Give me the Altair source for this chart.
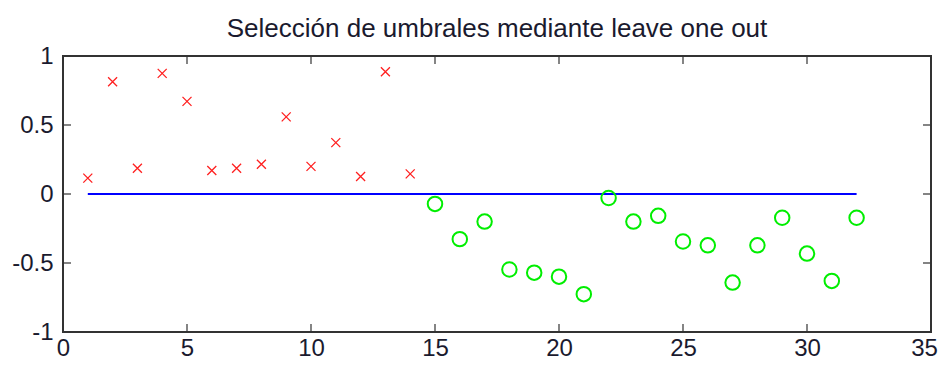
import altair as alt
import pandas as pd

# Data
red_x = list(range(1, 15))
red_y = [0.115, 0.814, 0.186, 0.874, 0.671, 0.17, 0.186, 0.215, 0.559, 0.2,
         0.372, 0.127, 0.886, 0.146]
green_x = list(range(15, 33))
green_y = [-0.072, -0.327, -0.2, -0.547, -0.57, -0.599, -0.726, -0.029, -0.2,
           -0.158, -0.344, -0.372, -0.642, -0.372, -0.172, -0.432, -0.63, -0.172]
line_x = [1, 32]
line_y = [0, 0]
x_ticks = [0, 5, 10, 15, 20, 25, 30, 35]
y_ticks = [-1, -0.5, 0, 0.5, 1]
title_text = "Selección de umbrales mediante leave one out"

W, H = 868, 276
TL = 8
FONT = "Liberation Sans"
TXT = "#1a1a2e"

df_red = pd.DataFrame({"x": red_x, "y": red_y})
df_green = pd.DataFrame({"x": green_x, "y": green_y})
df_line = pd.DataFrame({"x": line_x, "y": line_y})
df_xt = pd.DataFrame({"x": x_ticks})
df_yt = pd.DataFrame({"y": y_ticks})

xscale = alt.Scale(domain=[0, 35], nice=False, zero=False)
yscale = alt.Scale(domain=[-1, 1], nice=False, zero=False)

xaxis = alt.Axis(values=x_ticks, title=None, domain=False, ticks=False, grid=False,
                 labelFont=FONT, labelFontSize=24, labelColor=TXT, labelFlush=False,
                 labelOffset={"condition": {"test": "datum.value == 35", "value": -7},
                              "value": 0},
                 labelPadding=4, labelExpr="'' + datum.value")
yaxis = alt.Axis(values=y_ticks, title=None, domain=False, ticks=False, grid=False,
                 labelFont=FONT, labelFontSize=24, labelColor=TXT, labelFlush=False,
                 labelPadding=10, labelExpr="'' + datum.value")

X = alt.X("x:Q", scale=xscale, axis=xaxis)
Y = alt.Y("y:Q", scale=yscale, axis=yaxis)

line = alt.Chart(df_line).mark_line(color="#0000ff", strokeWidth=2).encode(x=X, y=Y)

xshape = "M-1,-1L1,1M1,-1L-1,1"
red = alt.Chart(df_red).mark_point(shape=xshape, filled=False, color="#ff2020",
                                   strokeWidth=1.3, size=81, opacity=1).encode(x=X, y=Y)
green = alt.Chart(df_green).mark_point(shape="circle", filled=False, color="#00ee00",
                                       strokeWidth=2, size=210, opacity=1).encode(x=X, y=Y)

tick_style = dict(color="#333333", strokeWidth=1.2)
bottom_ticks = alt.Chart(df_xt).mark_rule(**tick_style).encode(
    x=X, y=alt.value(H), y2=alt.value(H - TL))
top_ticks = alt.Chart(df_xt).mark_rule(**tick_style).encode(
    x=X, y=alt.value(0), y2=alt.value(TL))
left_ticks = alt.Chart(df_yt).mark_rule(**tick_style).encode(
    y=Y, x=alt.value(0), x2=alt.value(TL))
right_ticks = alt.Chart(df_yt).mark_rule(**tick_style).encode(
    y=Y, x=alt.value(W), x2=alt.value(W - TL))

chart = alt.layer(
    line, red, green, bottom_ticks, top_ticks, left_ticks, right_ticks
).properties(
    width=W, height=H,
    background="white",
    title=alt.TitleParams(title_text, font=FONT, fontSize=26, fontWeight="normal",
                          color=TXT, anchor="middle", offset=2),
    autosize=alt.AutoSizeParams(type="none"),
    padding={"left": 55, "top": 48, "right": 7, "bottom": 29},
).configure_view(
    stroke="#333333", strokeWidth=2
)

chart.save("out.html", embed_options={"renderer": "svg", "actions": False})
